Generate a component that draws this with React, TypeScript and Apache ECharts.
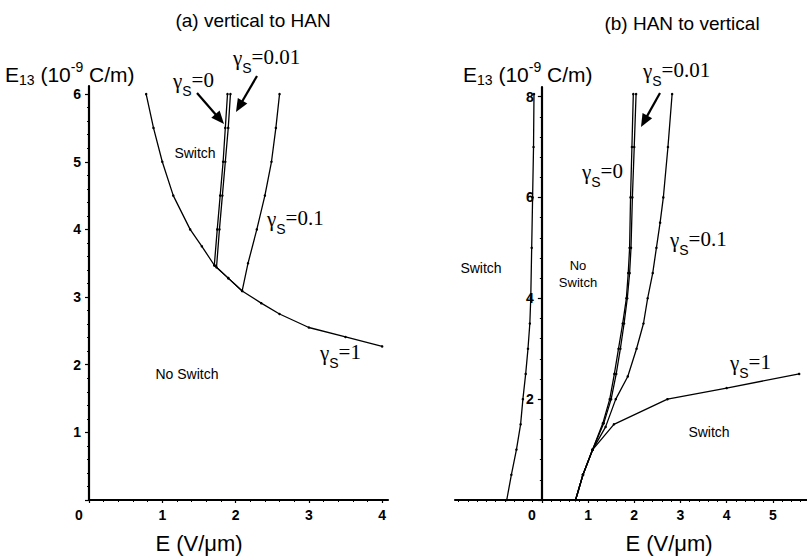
import React, { useEffect, useRef } from 'react';
import * as echarts from 'echarts';

type P = [number, number];

// ---- Panel (a): vertical to HAN ----
const aGamma1: P[] = [[0.78, 6.0], [0.88, 5.5], [1.0, 5.0], [1.15, 4.5], [1.38, 4.0], [1.54, 3.75], [1.71, 3.47], [1.9, 3.28], [2.09, 3.09], [2.35, 2.91], [2.6, 2.75], [3.0, 2.55], [3.5, 2.41], [4.0, 2.27]];
const aGamma0: P[] = [[1.71, 3.47], [1.75, 4.0], [1.79, 4.5], [1.83, 5.0], [1.86, 5.5], [1.89, 6.0]];
const aGamma001: P[] = [[1.74, 3.44], [1.78, 4.0], [1.82, 4.5], [1.86, 5.0], [1.9, 5.5], [1.93, 6.0]];
const aGamma01: P[] = [[1.71, 3.47], [1.9, 3.28], [2.09, 3.09], [2.17, 3.5], [2.29, 4.0], [2.4, 4.5], [2.49, 5.0], [2.55, 5.5], [2.6, 6.0]];

// ---- Panel (b): HAN to vertical ----
const bNegBranch: P[] = [[-0.76, 0], [-0.66, 0.5], [-0.55, 1.0], [-0.46, 1.5], [-0.41, 2.0], [-0.35, 2.5], [-0.3, 3.0], [-0.26, 3.5], [-0.24, 4.0], [-0.22, 5.0], [-0.2, 6.0], [-0.18, 7.0], [-0.17, 8.05]];
const bGamma0: P[] = [[0.73, 0], [0.89, 0.5], [1.1, 1.0], [1.32, 1.52], [1.47, 2.0], [1.57, 2.5], [1.66, 3.0], [1.75, 3.5], [1.83, 4.0], [1.87, 4.5], [1.9, 5.0], [1.92, 6.0], [1.95, 7.0], [1.98, 8.05]];
const bGamma001: P[] = [[0.73, 0], [0.89, 0.5], [1.1, 1.0], [1.34, 1.52], [1.5, 2.0], [1.61, 2.5], [1.7, 3.0], [1.78, 3.5], [1.85, 4.0], [1.9, 4.5], [1.93, 5.0], [1.96, 6.0], [2.0, 7.0], [2.04, 8.05]];
const bGamma01: P[] = [[0.73, 0], [0.89, 0.5], [1.1, 1.0], [1.38, 1.45], [1.6, 2.0], [1.86, 2.45], [2.05, 3.0], [2.2, 3.5], [2.29, 4.0], [2.4, 4.5], [2.48, 5.0], [2.56, 5.5], [2.63, 6.0], [2.73, 7.0], [2.82, 8.05]];
const bGamma1: P[] = [[0.73, 0], [0.89, 0.5], [1.1, 1.0], [1.56, 1.5], [2.72, 2.0], [4.0, 2.22], [5.57, 2.5]];

// ---- Ticks ----
const xTicksA = [0, 1, 2, 3, 4];
const yTicksA = [0, 1, 2, 3, 4, 5, 6];
const yLabelsA = [1, 2, 3, 4, 5, 6];
const xTicksB = [0, 1, 2, 3, 4, 5];
const yTicksB = [0, 2, 4, 6, 8];
const yLabelsB = [2, 4, 6, 8];

const SANS = 'Liberation Sans';
const SERIF = 'Liberation Serif';

let measureCtx: CanvasRenderingContext2D | null = null;
function textWidth(text: string, size: number, family: string) {
  if (!measureCtx) measureCtx = document.createElement('canvas').getContext('2d');
  if (!measureCtx) return text.length * size * 0.5;
  measureCtx.font = `${size}px "${family}"`;
  return measureCtx.measureText(text).width;
}

function txt(x: number, y: number, text: string, size: number, family: string, align = 'left') {
  return {
    type: 'text',
    x,
    y,
    style: { text, align, verticalAlign: 'middle', fontFamily: family, fontSize: size, fill: '#000' },
  };
}

// γ_S=value label: x = left edge, y = centre of the main text
function gammaLabel(x: number, y: number, value: string) {
  const wg = textWidth('γ', 21, SERIF);
  const ws = textWidth('S', 14, SANS);
  return [
    txt(x, y + 1, 'γ', 21, SERIF),
    txt(x + wg, y + 11, 'S', 14, SANS),
    txt(x + wg + ws, y, '=' + value, 21, SERIF),
  ];
}

function e13Label(x: number, y: number) {
  const sp = textWidth(' ', 21, SANS);
  const wE = textWidth('E', 21, SANS);
  const w13 = textWidth('13', 14, SANS);
  const w10 = textWidth('(10', 21, SANS);
  const w9 = textWidth('-9', 14, SANS);
  let cx = x;
  const out: any[] = [];
  out.push(txt(cx, y, 'E', 21, SANS)); cx += wE;
  out.push(txt(cx, y + 6, '13', 14, SANS)); cx += w13 + sp;
  out.push(txt(cx, y, '(10', 21, SANS)); cx += w10;
  out.push(txt(cx, y - 7, '-9', 14, SANS)); cx += w9 + sp;
  out.push(txt(cx, y, 'C/m)', 21, SANS));
  return out;
}

function arrow(x1: number, y1: number, x2: number, y2: number) {
  const dx = x2 - x1;
  const dy = y2 - y1;
  const len = Math.sqrt(dx * dx + dy * dy);
  const ux = dx / len;
  const uy = dy / len;
  const hl = 13;
  const hw = 5.5;
  const bx = x2 - ux * hl;
  const by = y2 - uy * hl;
  return [
    { type: 'line', shape: { x1, y1, x2: bx + ux * 2, y2: by + uy * 2 }, style: { stroke: '#000', lineWidth: 2.2 } },
    {
      type: 'polygon',
      shape: { points: [[x2, y2], [bx - uy * hw, by + ux * hw], [bx + uy * hw, by - ux * hw]] },
      style: { fill: '#000' },
    },
  ];
}

const labelFont = { color: '#000', fontFamily: SANS, fontSize: 14, fontWeight: 'bold' as const };

function xAxis(gridIndex: number, min: number, max: number, ticks: number[], minorSplit: number, interval?: number, splitNumber?: number) {
  const cfg: any = {
    type: 'value',
    gridIndex,
    min,
    max,
    splitLine: { show: false },
    axisLine: { show: true, onZero: false, lineStyle: { color: '#000', width: 2.2 } },
    axisTick: { show: true, customValues: ticks, length: 3, lineStyle: { color: '#000', width: 1.2 } },
    minorTick: { show: true, splitNumber: minorSplit, length: 2, lineStyle: { color: '#000', width: 1 } },
    minorSplitLine: { show: false },
    axisLabel: {
      ...labelFont,
      margin: 8,
      customValues: ticks,
      formatter: (v: number) => (v === 0 ? '{o|0}' : Number.isInteger(v) && v > 0 ? String(v) : ''),
      rich: { o: { ...labelFont, padding: [0, 20, 0, 0] } },
    },
  };
  if (interval !== undefined) cfg.interval = interval;
  if (splitNumber !== undefined) cfg.splitNumber = splitNumber;
  return cfg;
}

function yAxis(gridIndex: number, min: number, max: number, interval: number, ticks: number[], labels: number[], minorSplit: number, offset: number) {
  return {
    type: 'value',
    gridIndex,
    min,
    max,
    interval,
    position: 'left',
    offset,
    splitLine: { show: false },
    axisLine: { show: true, onZero: false, lineStyle: { color: '#000', width: 2.2 } },
    axisTick: { show: true, customValues: ticks, length: 4, lineStyle: { color: '#000', width: 1.2 } },
    minorTick: { show: true, splitNumber: minorSplit, length: 2, lineStyle: { color: '#000', width: 1 } },
    minorSplitLine: { show: false },
    axisLabel: {
      ...labelFont,
      margin: 8,
      padding: [6, 0, 0, 0],
      customValues: labels,
      formatter: (v: number) => (Number.isInteger(v) && v > 0 ? String(v) : ''),
    },
  };
}

function curve(name: string, data: P[], idx: number) {
  return {
    type: 'line',
    name,
    xAxisIndex: idx,
    yAxisIndex: idx,
    data,
    smooth: false,
    showSymbol: true,
    symbol: 'circle',
    symbolSize: 2.5,
    lineStyle: { color: '#000', width: 1.3 },
    itemStyle: { color: '#000' },
    silent: true,
  };
}

// right panel: where x = 0 falls inside its grid
const GRID_B_LEFT = 455;
const GRID_B_WIDTH = 352;
const X_B_MIN = -1.88;
const X_B_MAX = 5.74;

export default function App() {
  const ref = useRef<HTMLDivElement>(null);

  useEffect(() => {
    const chart = echarts.init(ref.current!, null, { renderer: 'svg' });
    const zeroOffset = -((0 - X_B_MIN) / (X_B_MAX - X_B_MIN)) * GRID_B_WIDTH;
    const option: any = {
      animation: false,
      backgroundColor: '#fff',
      grid: [
        { left: 89, top: 86, width: 299, height: 414, outerBoundsMode: 'none', containLabel: false },
        { left: GRID_B_LEFT, top: 87, width: GRID_B_WIDTH, height: 413, outerBoundsMode: 'none', containLabel: false },
      ],
      xAxis: [
        xAxis(0, 0, 4.08, xTicksA, 5, 1),
        xAxis(1, X_B_MIN, X_B_MAX, xTicksB, 10, undefined, 4),
      ],
      yAxis: [
        yAxis(0, 0, 6.12, 1, yTicksA, yLabelsA, 5, 0),
        yAxis(1, 0, 8.19, 2, yTicksB, yLabelsB, 5, zeroOffset),
      ],
      series: [
        curve('(a) γs=1', aGamma1, 0),
        curve('(a) γs=0', aGamma0, 0),
        curve('(a) γs=0.01', aGamma001, 0),
        curve('(a) γs=0.1', aGamma01, 0),
        curve('(b) left boundary', bNegBranch, 1),
        curve('(b) γs=0', bGamma0, 1),
        curve('(b) γs=0.01', bGamma001, 1),
        curve('(b) γs=0.1', bGamma01, 1),
        curve('(b) γs=1', bGamma1, 1),
      ],
      graphic: [
        txt(253, 20, '(a) vertical to HAN', 19, SANS, 'center'),
        txt(682, 23, '(b) HAN to vertical', 19, SANS, 'center'),
        ...e13Label(5, 74),
        ...e13Label(463, 74),
        txt(199, 543, 'E (V/μm)', 22, SANS, 'center'),
        txt(669, 543, 'E (V/μm)', 22, SANS, 'center'),
        txt(195, 153, 'Switch', 14, SANS, 'center'),
        txt(187, 374, 'No Switch', 14, SANS, 'center'),
        txt(481, 268, 'Switch', 14, SANS, 'center'),
        txt(578, 265, 'No', 13, SANS, 'center'),
        txt(578, 282, 'Switch', 13, SANS, 'center'),
        txt(709, 432, 'Switch', 14, SANS, 'center'),
        ...gammaLabel(173, 80, '0'),
        ...gammaLabel(233, 57, '0.01'),
        ...gammaLabel(267, 218, '0.1'),
        ...gammaLabel(320, 352, '1'),
        ...gammaLabel(643, 70, '0.01'),
        ...gammaLabel(582, 171, '0'),
        ...gammaLabel(670, 239, '0.1'),
        ...gammaLabel(730, 362, '1'),
        ...arrow(197, 93, 224, 124),
        ...arrow(257, 76, 236, 112),
        ...arrow(660, 93, 641, 127),
      ],
    };
    chart.setOption(option);
    return () => chart.dispose();
  }, []);

  return (
    <div
      ref={ref}
      style={{ position: 'fixed', left: 0, top: 0, width: 807, height: 557, background: '#fff' }}
    />
  );
}
